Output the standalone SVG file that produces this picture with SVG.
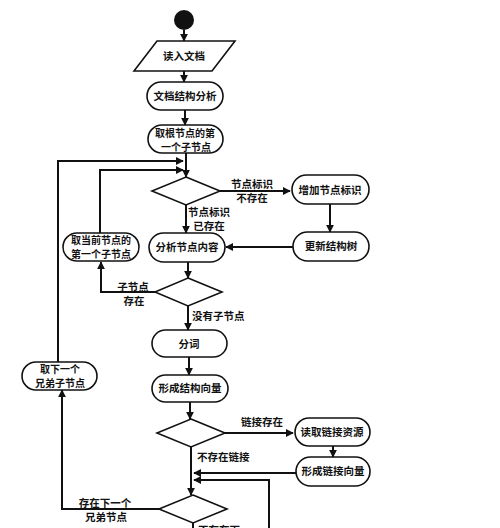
<svg xmlns="http://www.w3.org/2000/svg" width="500" height="528" viewBox="0 0 500 528">
<defs>
<marker id="ah" viewBox="0 0 10 10" refX="9" refY="5" markerWidth="8" markerHeight="8" markerUnits="userSpaceOnUse" orient="auto">
<path d="M0,0 L10,5 L0,10 Z" fill="#111"/>
</marker>
</defs>
<style>
.n{fill:#fff;stroke:#111;stroke-width:1.6}
.t{font-family:"Noto Sans CJK SC","Noto Sans CJK JP",sans-serif;font-size:10.5px;font-weight:bold;fill:#111;text-anchor:middle}
.t2{font-family:"Noto Sans CJK SC","Noto Sans CJK JP",sans-serif;font-size:10px;font-weight:bold;fill:#111;text-anchor:middle}
.l{font-family:"Noto Sans CJK SC","Noto Sans CJK JP",sans-serif;font-size:10.5px;font-weight:bold;fill:#111}
.c{fill:none;stroke:#111;stroke-width:2}
</style>
<rect width="500" height="528" fill="#fff"/>
<g id="connectors">
<path class="c" d="M184,30 V41" marker-end="url(#ah)"/>
<path class="c" d="M184,71 V82" marker-end="url(#ah)"/>
<path class="c" d="M185,110 V125" marker-end="url(#ah)"/>
<path class="c" d="M186,153 V177" marker-end="url(#ah)"/>
<path class="c" d="M58,362 V161 H183" marker-end="url(#ah)"/>
<path class="c" d="M100,233 V170 H183" marker-end="url(#ah)"/>
<path class="c" d="M220,191 H290" marker-end="url(#ah)"/>
<path class="c" d="M330,204 V232" marker-end="url(#ah)"/>
<path class="c" d="M293,247 H226" marker-end="url(#ah)"/>
<path class="c" d="M186,205 V233" marker-end="url(#ah)"/>
<path class="c" d="M188,262 V278" marker-end="url(#ah)"/>
<path class="c" d="M155,292 H101 V262" marker-end="url(#ah)"/>
<path class="c" d="M188,306 V330" marker-end="url(#ah)"/>
<path class="c" d="M189,357 V375" marker-end="url(#ah)"/>
<path class="c" d="M190,402 V419" marker-end="url(#ah)"/>
<path class="c" d="M225,433 H293" marker-end="url(#ah)"/>
<path class="c" d="M333,446 V457" marker-end="url(#ah)"/>
<path class="c" d="M296,473 H194" marker-end="url(#ah)"/>
<path class="c" d="M269,528 V480 H194" marker-end="url(#ah)"/>
<path class="c" d="M191,447 V495" marker-end="url(#ah)"/>
<path class="c" d="M159,509 H62 V390" marker-end="url(#ah)"/>
<path class="c" d="M193,523 V528"/>
<text class="l" text-anchor="middle"><tspan x="252" y="188">节点标识</tspan><tspan x="252" y="202">不存在</tspan></text>
<text class="l" text-anchor="middle"><tspan x="209" y="216">节点标识</tspan><tspan x="209" y="230">已存在</tspan></text>
<text class="l" text-anchor="middle"><tspan x="133" y="291">子节点</tspan><tspan x="134" y="305">存在</tspan></text>
<text class="l" x="192" y="320">没有子节点</text>
<text class="l" x="262" y="426" text-anchor="middle">链接存在</text>
<text class="l" x="197" y="461">不存在链接</text>
<text class="l" text-anchor="middle"><tspan x="105" y="507">存在下一个</tspan><tspan x="106" y="521">兄弟节点</tspan></text>
<text class="l" x="198" y="534">不存在下</text>
</g>
<g id="start"><circle cx="184" cy="20" r="10" fill="#111"/></g>
<g id="read"><path class="n" d="M157,41 H235 L212,71 H134 Z"/><text class="t" x="184" y="60">读入文档</text></g>
<g id="analyze"><rect class="n" x="147" y="82" width="76" height="28" rx="14"/><text class="t" x="185" y="100">文档结构分析</text></g>
<g id="root"><rect class="n" x="148" y="125" width="75" height="28" rx="14"/><text class="t2"><tspan x="185" y="137">取根节点的第</tspan><tspan x="186" y="150.5">一个子节点</tspan></text></g>
<g id="d1"><path class="n" d="M186,177 L220,191 L186,205 L152,191 Z"/></g>
<g id="addid"><rect class="n" x="292" y="175" width="77" height="29" rx="14.5"/><text class="t" x="330" y="194">增加节点标识</text></g>
<g id="update"><rect class="n" x="293" y="232" width="76" height="29" rx="14.5"/><text class="t" x="331" y="250">更新结构树</text></g>
<g id="content"><rect class="n" x="149" y="233" width="76" height="29" rx="14.5"/><text class="t" x="187" y="251">分析节点内容</text></g>
<g id="firstchild"><rect class="n" x="63" y="233" width="76" height="28" rx="14"/><text class="t2"><tspan x="101" y="244">取当前节点的</tspan><tspan x="101" y="257.5">第一个子节点</tspan></text></g>
<g id="d2"><path class="n" d="M188,278 L222,292 L188,306 L155,292 Z"/></g>
<g id="seg"><rect class="n" x="152" y="330" width="75" height="27" rx="13.5"/><text class="t" x="189" y="347.5">分词</text></g>
<g id="structvec"><rect class="n" x="152" y="375" width="76" height="27" rx="13.5"/><text class="t" x="190" y="392">形成结构向量</text></g>
<g id="d3"><path class="n" d="M191,419 L225,433 L191,447 L157,433 Z"/></g>
<g id="readlink"><rect class="n" x="295" y="418" width="75" height="28" rx="14"/><text class="t" x="332" y="436">读取链接资源</text></g>
<g id="linkvec"><rect class="n" x="296" y="457" width="74" height="29" rx="14.5"/><text class="t" x="333" y="475">形成链接向量</text></g>
<g id="d4"><path class="n" d="M193,495 L227,509 L193,523 L159,509 Z"/></g>
<g id="sibling"><rect class="n" x="22" y="362" width="75" height="28" rx="14"/><text class="t2"><tspan x="60" y="373">取下一个</tspan><tspan x="60" y="386.5">兄弟子节点</tspan></text></g>
</svg>
